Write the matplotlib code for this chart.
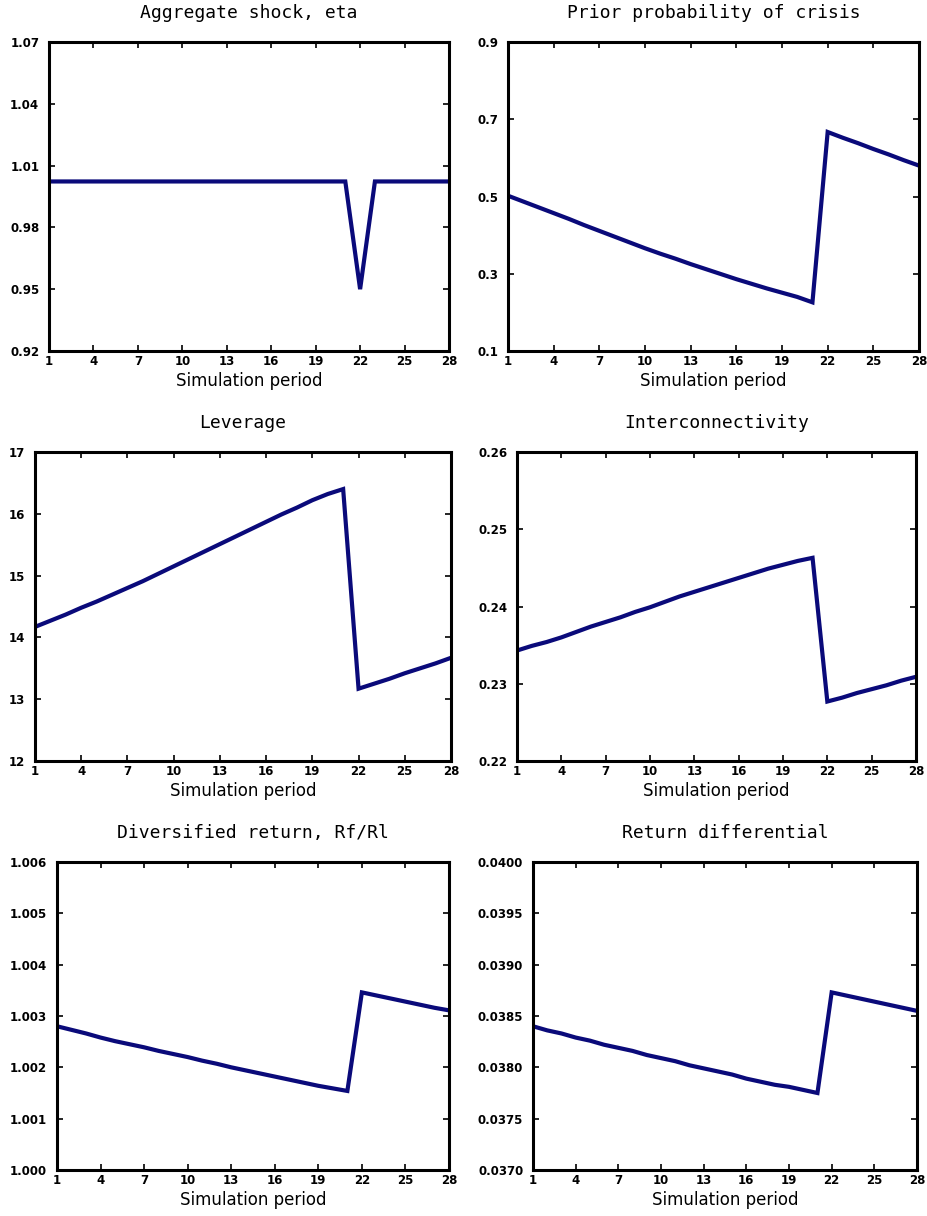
import matplotlib

matplotlib.use("Agg")
import matplotlib.pyplot as plt
import numpy as np

periods = list(range(1, 29))
x_ticks = [1, 4, 7, 10, 13, 16, 19, 22, 25, 28]

eta = [1.0023] * 21 + [0.950] + [1.0023] * 6
prior_prob = [
    0.502, 0.487, 0.472, 0.457, 0.442, 0.426, 0.411, 0.396, 0.381, 0.366,
    0.352, 0.339, 0.325, 0.312, 0.299, 0.286, 0.274, 0.262, 0.251, 0.240,
    0.226, 0.667, 0.652, 0.638, 0.623, 0.609, 0.594, 0.580,
]
leverage = [
    14.17, 14.27, 14.37, 14.48, 14.58, 14.69, 14.80, 14.91, 15.03, 15.15,
    15.27, 15.39, 15.51, 15.63, 15.75, 15.87, 15.99, 16.10, 16.22, 16.32,
    16.40, 13.17, 13.25, 13.33, 13.42, 13.50, 13.58, 13.67,
]
interconn = [
    0.2343, 0.2349, 0.2354, 0.2360, 0.2367, 0.2374, 0.2380, 0.2386, 0.2393, 0.2399,
    0.2406, 0.2413, 0.2419, 0.2425, 0.2431, 0.2437, 0.2443, 0.2449, 0.2454, 0.2459,
    0.2463, 0.2277, 0.2282, 0.2288, 0.2293, 0.2298, 0.2304, 0.2309,
]
div_return = [
    1.00280, 1.00273, 1.00266, 1.00258, 1.00251, 1.00245, 1.00239, 1.00232, 1.00226, 1.00220,
    1.00213, 1.00207, 1.00200, 1.00194, 1.00188, 1.00182, 1.00176, 1.00170, 1.00164, 1.00159,
    1.00154, 1.00346, 1.00340, 1.00334, 1.00328, 1.00322, 1.00316, 1.00311,
]
ret_diff = [
    0.03840, 0.03836, 0.03833, 0.03829, 0.03826, 0.03822, 0.03819, 0.03816, 0.03812, 0.03809,
    0.03806, 0.03802, 0.03799, 0.03796, 0.03793, 0.03789, 0.03786, 0.03783, 0.03781, 0.03778,
    0.03775, 0.03873, 0.03870, 0.03867, 0.03864, 0.03861, 0.03858, 0.03855,
]

titles = [
    "Aggregate shock, eta",
    "Prior probability of crisis",
    "Leverage",
    "Interconnectivity",
    "Diversified return, Rf/Rl",
    "Return differential",
]
series = [eta, prior_prob, leverage, interconn, div_return, ret_diff]
y_ticks = [
    [0.92, 0.95, 0.98, 1.01, 1.04, 1.07],
    [0.1, 0.3, 0.5, 0.7, 0.9],
    [12, 13, 14, 15, 16, 17],
    [0.22, 0.23, 0.24, 0.25, 0.26],
    [1.000, 1.001, 1.002, 1.003, 1.004, 1.005, 1.006],
    [0.0370, 0.0375, 0.0380, 0.0385, 0.0390, 0.0395, 0.0400],
]
y_formats = ["{:.2f}", "{:.1f}", "{:.0f}", "{:.2f}", "{:.3f}", "{:.4f}"]

# axes boxes in pixels (left, right, top, bottom) on a 928x1216 canvas
W, H = 928, 1216
boxes = [
    (49, 449, 42, 351),
    (508, 919, 42, 351),
    (35, 451, 452, 761),
    (517, 916, 452, 761),
    (57, 449, 862, 1170),
    (533, 917, 862, 1170),
]

LINE_COLOR = "#0a0a7a"

fig = plt.figure(figsize=(W / 100, H / 100), dpi=100)

for title, values, ticks, fmt, (l, r, t, b) in zip(titles, series, y_ticks, y_formats, boxes):
    ax = fig.add_axes([l / W, 1 - b / H, (r - l) / W, (b - t) / H])
    ax.plot(periods, values, color=LINE_COLOR, linewidth=3.0,
            solid_joinstyle="miter", solid_capstyle="butt")
    ax.set_xlim(1, 28)
    ax.set_ylim(ticks[0], ticks[-1])
    ax.set_xticks(x_ticks)
    ax.set_yticks(ticks, labels=[fmt.format(v) for v in ticks])
    ax.tick_params(direction="in", top=True, right=True, length=4, width=1.2,
                   labelsize=8.5)
    ax.tick_params(axis="x", pad=3)
    ax.tick_params(axis="y", pad=7)
    for lab in ax.get_xticklabels() + ax.get_yticklabels():
        lab.set_fontweight("bold")
    for lab in ax.get_yticklabels():
        lab.set_y(lab.get_position()[1])
        lab.set_verticalalignment("center_baseline")
    for spine in ax.spines.values():
        spine.set_linewidth(2.2)
    ax.set_title(title, fontsize=13, family="DejaVu Sans Mono", pad=17)
    ax.set_xlabel("Simulation period", fontsize=12, labelpad=3)

fig.savefig("out.png", dpi=100)
